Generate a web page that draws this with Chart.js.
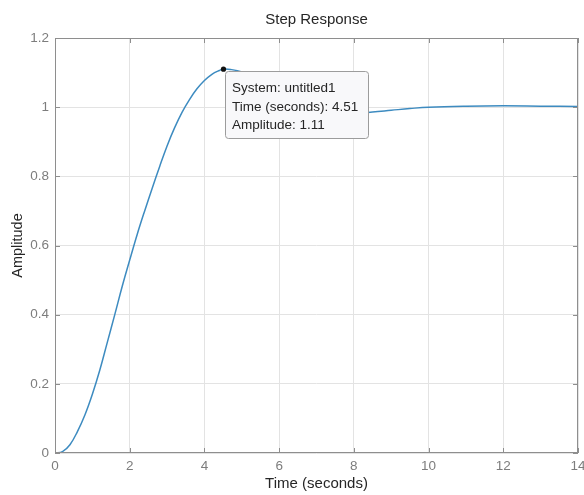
<!DOCTYPE html>
<html>
<head>
<meta charset="utf-8">
<script src="https://cdn.jsdelivr.net/npm/chart.js@4/dist/chart.umd.min.js"></script>
<style>
  html, body { margin: 0; padding: 0; background: #ffffff; }
  #wrap { width: 584px; height: 495px; position: relative; }
</style>
</head>
<body>
<div id="wrap"><canvas id="c"></canvas></div>
<script>
// ---- data ----
const timeSec = [0, 0.2, 0.4, 0.6, 0.8, 1.0, 1.2, 1.4, 1.6, 1.8, 2.0, 2.2, 2.4, 2.6, 2.8, 3.0, 3.2, 3.4, 3.6, 3.8, 4.0, 4.2, 4.4, 4.51, 4.7, 5.0, 5.5, 6.0, 6.5, 7.0, 7.5, 8.0, 8.5, 9.0, 9.5, 10, 11, 12, 13, 14];
const amplitude = [0, 0.004, 0.024, 0.062, 0.11, 0.17, 0.24, 0.32, 0.40, 0.482, 0.558, 0.632, 0.70, 0.765, 0.828, 0.888, 0.94, 0.985, 1.022, 1.053, 1.077, 1.095, 1.106, 1.11, 1.109, 1.102, 1.08, 1.052, 1.022, 0.999, 0.987, 0.983, 0.986, 0.991, 0.996, 1.0, 1.003, 1.004, 1.003, 1.002];

const xTicks = [0, 2, 4, 6, 8, 10, 12, 14];
const yTicks = [0, 0.2, 0.4, 0.6, 0.8, 1, 1.2];

const tipTime = 4.51;
const tipAmp = 1.11;
const tipLines = ['System: untitled1', 'Time (seconds): 4.51', 'Amplitude: 1.11'];

const chartTitle = 'Step Response';
const xTitle = 'Time (seconds)';
const yTitle = 'Amplitude';

// ---- chart ----
const FONT = "'Liberation Sans', Arial, Helvetica, sans-serif";
const points = timeSec.map((t, i) => ({ x: t, y: amplitude[i] }));

const frameColor = '#8e8e8e';

const framePlugin = {
  id: 'matlabFrame',
  afterDraw(chart) {
    const { ctx, chartArea: a, scales } = chart;
    ctx.save();
    ctx.strokeStyle = frameColor;
    ctx.lineWidth = 1;
    ctx.strokeRect(Math.round(a.left) + 0.5, Math.round(a.top) + 0.5,
                   Math.round(a.right - a.left) - 1, Math.round(a.bottom - a.top) - 1);
    const L = 5;
    ctx.beginPath();
    xTicks.forEach(v => {
      const px = Math.round(scales.x.getPixelForValue(v)) + 0.5;
      ctx.moveTo(px, a.bottom); ctx.lineTo(px, a.bottom - L);
      ctx.moveTo(px, a.top); ctx.lineTo(px, a.top + L);
    });
    yTicks.forEach(v => {
      const py = Math.round(scales.y.getPixelForValue(v)) + 0.5;
      ctx.moveTo(a.left, py); ctx.lineTo(a.left + L, py);
      ctx.moveTo(a.right, py); ctx.lineTo(a.right - L, py);
    });
    ctx.stroke();
    ctx.restore();
  }
};

const datatipPlugin = {
  id: 'datatip',
  afterDatasetDraw(chart, args) {
    if (args.index !== 0) return;
    const { ctx, scales } = chart;
    const px = scales.x.getPixelForValue(tipTime);
    const py = scales.y.getPixelForValue(tipAmp);
    const bx = Math.round(px + 2) + 0.5, by = Math.round(py + 2) + 0.5;
    const bw = 143, bh = 67, r = 3;
    ctx.save();
    ctx.beginPath();
    ctx.moveTo(bx + r, by);
    ctx.lineTo(bx + bw - r, by);
    ctx.arcTo(bx + bw, by, bx + bw, by + r, r);
    ctx.lineTo(bx + bw, by + bh - r);
    ctx.arcTo(bx + bw, by + bh, bx + bw - r, by + bh, r);
    ctx.lineTo(bx + r, by + bh);
    ctx.arcTo(bx, by + bh, bx, by + bh - r, r);
    ctx.lineTo(bx, by + r);
    ctx.arcTo(bx, by, bx + r, by, r);
    ctx.closePath();
    ctx.fillStyle = '#f8f8fa';
    ctx.fill();
    ctx.strokeStyle = '#9c9c9c';
    ctx.lineWidth = 1;
    ctx.stroke();
    ctx.fillStyle = '#262626';
    ctx.font = '13.5px ' + FONT;
    ctx.textBaseline = 'middle';
    ctx.textAlign = 'left';
    tipLines.forEach((s, i) => ctx.fillText(s, bx + 6.5, by + 17 + i * 18.4));
    ctx.restore();
  }
};

new Chart(document.getElementById('c'), {
  type: 'line',
  data: {
    datasets: [
      {
        data: points,
        borderColor: '#3d8bc0',
        borderWidth: 1.5,
        pointRadius: 0,
        fill: false,
        tension: 0.4,
        order: 1
      },
      {
        type: 'scatter',
        data: [{ x: tipTime, y: tipAmp }],
        pointRadius: 2.6,
        pointBackgroundColor: '#111111',
        pointBorderColor: '#111111',
        pointBorderWidth: 0,
        order: 0
      }
    ]
  },
  options: {
    responsive: true,
    maintainAspectRatio: false,
    animation: false,
    layout: { padding: 0 },
    plugins: {
      legend: { display: false },
      tooltip: { enabled: false },
      title: {
        display: true,
        text: chartTitle,
        fullSize: false,
        color: '#262626',
        font: { family: FONT, size: 15, weight: 'normal', lineHeight: 1.2 },
        padding: { top: 11, bottom: 9 }
      }
    },
    scales: {
      x: {
        type: 'linear',
        min: 0, max: 14,
        afterBuildTicks: s => { s.ticks = xTicks.map(v => ({ value: v })); },
        ticks: {
          color: '#7d7d7d',
          font: { family: FONT, size: 13.5 },
          padding: 5,
          maxRotation: 0,
          callback: v => String(v)
        },
        grid: { color: '#e3e3e3', drawTicks: false },
        border: { display: false },
        title: {
          display: true,
          text: xTitle,
          color: '#262626',
          font: { family: FONT, size: 15, lineHeight: 1.2 },
          padding: { top: 0, bottom: 2 }
        },
        afterFit: s => { s.height = 42; s.paddingRight = 6; }
      },
      y: {
        type: 'linear',
        min: 0, max: 1.2,
        afterBuildTicks: s => { s.ticks = yTicks.map(v => ({ value: v })); },
        ticks: {
          color: '#7d7d7d',
          font: { family: FONT, size: 13.5 },
          padding: 6,
          callback: v => String(Number(v.toFixed(1)))
        },
        grid: { color: '#e3e3e3', drawTicks: false },
        border: { display: false },
        title: {
          display: true,
          text: yTitle,
          color: '#262626',
          font: { family: FONT, size: 14.5, lineHeight: 1.2 },
          padding: { top: 9, bottom: 0 }
        },
        afterFit: s => { s.width = 55; }
      }
    }
  },
  plugins: [framePlugin, datatipPlugin]
});
</script>
</body>
</html>
